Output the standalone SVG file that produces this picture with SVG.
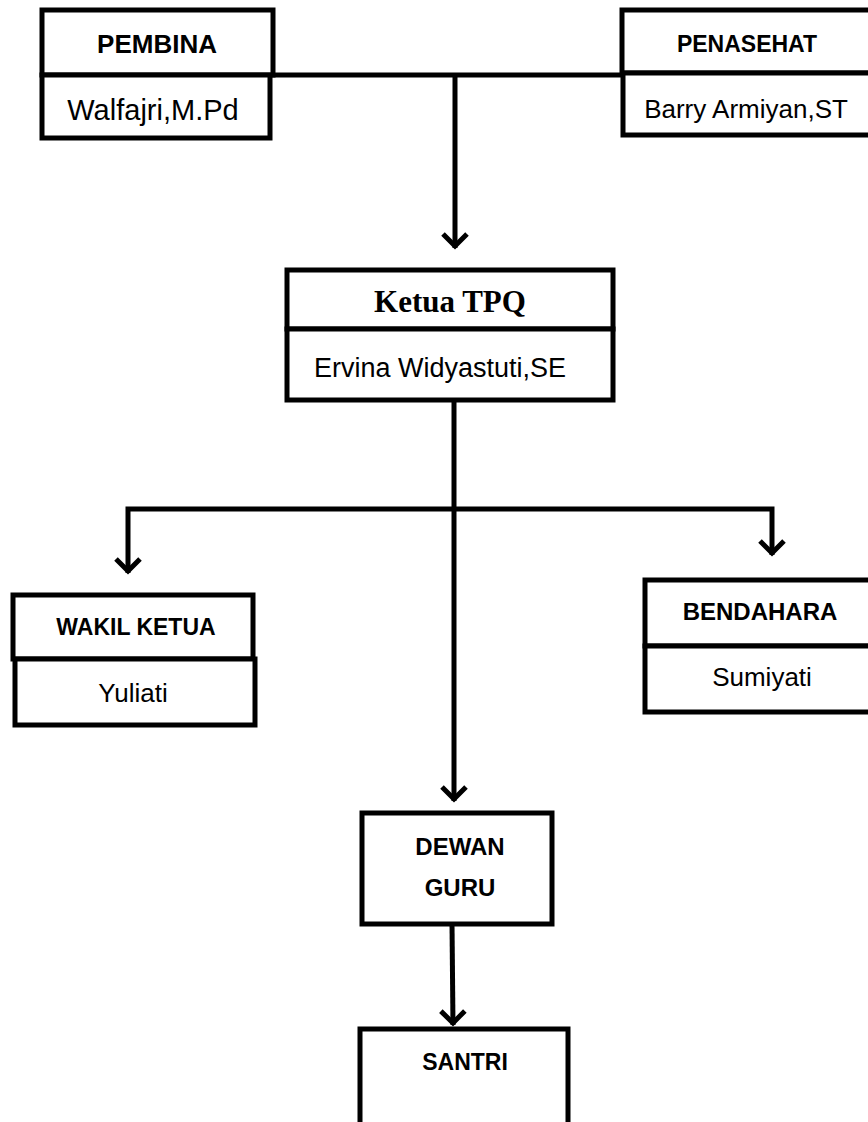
<svg xmlns="http://www.w3.org/2000/svg" width="868" height="1122" viewBox="0 0 868 1122">
<defs>
<marker id="ah" markerUnits="userSpaceOnUse" markerWidth="40" markerHeight="40" viewBox="-20 -20 40 40" refX="2" refY="0" orient="auto" overflow="visible">
<path d="M-12,-12 L0,0 L-12,12" fill="none" stroke="#000" stroke-width="5"/>
</marker>
</defs>
<style>
.box{fill:#fff;stroke:#000;stroke-width:5;stroke-linejoin:miter}
.ln{fill:none;stroke:#000;stroke-width:5}
.b{font-family:"Liberation Sans",Arial,sans-serif;font-weight:bold;fill:#000;text-anchor:middle}
.r{font-family:"Liberation Sans",Arial,sans-serif;fill:#000;text-anchor:middle}
.s{font-family:"Liberation Serif","Times New Roman",serif;font-weight:bold;fill:#000;text-anchor:middle}
</style>
<rect width="868" height="1122" fill="#fff"/>
<g id="connectors">
<path class="ln" d="M270,75 H626"/>
<path class="ln" d="M455,75 V248" marker-end="url(#ah)"/>
<path class="ln" d="M454,400 V801" marker-end="url(#ah)"/>
<path class="ln" d="M456,509 H128 V573" marker-end="url(#ah)"/>
<path class="ln" d="M452,509 H772 V555" marker-end="url(#ah)"/>
<path class="ln" d="M452,924 L453,1025" marker-end="url(#ah)"/>
</g>
<g id="pembina">
<rect class="box" x="42" y="10" width="231" height="65"/>
<rect class="box" x="42" y="75" width="228" height="63"/>
<text class="b" x="157" y="53" font-size="26">PEMBINA</text>
<text class="r" x="153" y="120" font-size="29">Walfajri,M.Pd</text>
</g>
<g id="penasehat">
<rect class="box" x="622" y="10" width="260" height="63"/>
<rect class="box" x="623" y="73" width="260" height="62"/>
<text class="b" x="747" y="52" font-size="23">PENASEHAT</text>
<text class="r" x="746" y="118" font-size="26">Barry Armiyan,ST</text>
</g>
<g id="ketua">
<rect class="box" x="287" y="270" width="326" height="59"/>
<rect class="box" x="287" y="329" width="326" height="71"/>
<text class="s" x="450" y="312" font-size="31">Ketua TPQ</text>
<text class="r" x="440" y="377" font-size="27">Ervina Widyastuti,SE</text>
</g>
<g id="wakil">
<rect class="box" x="13" y="595" width="240" height="64"/>
<rect class="box" x="15" y="659" width="240" height="66"/>
<text class="b" x="136" y="635" font-size="23">WAKIL KETUA</text>
<text class="r" x="133" y="702" font-size="26">Yuliati</text>
</g>
<g id="bendahara">
<rect class="box" x="645" y="580" width="240" height="66"/>
<rect class="box" x="645" y="646" width="240" height="66"/>
<text class="b" x="760" y="620" font-size="24">BENDAHARA</text>
<text class="r" x="762" y="686" font-size="26">Sumiyati</text>
</g>
<g id="dewan">
<rect class="box" x="362" y="813" width="190" height="111"/>
<text class="b" x="460" y="855" font-size="24">DEWAN</text>
<text class="b" x="460" y="896" font-size="24">GURU</text>
</g>
<g id="santri">
<rect class="box" x="360" y="1029" width="208" height="110"/>
<text class="b" x="465" y="1070" font-size="23">SANTRI</text>
</g>
</svg>
